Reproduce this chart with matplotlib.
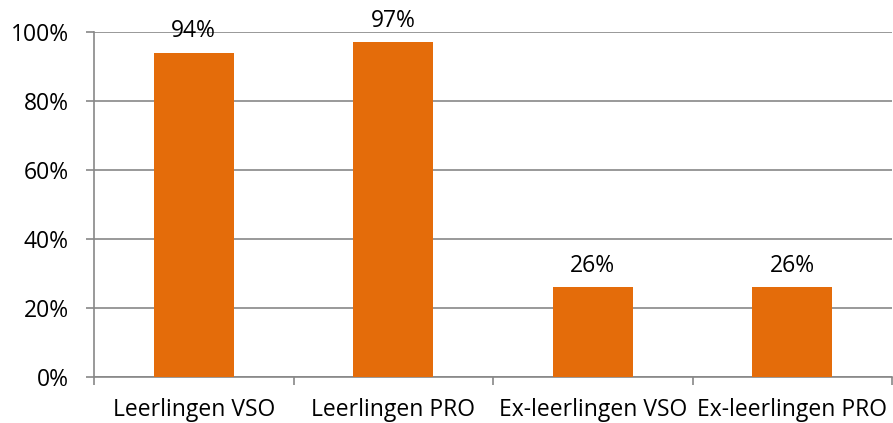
import numpy as np
import matplotlib.pyplot as plt

# data
categories = ['Leerlingen VSO', 'Leerlingen PRO', 'Ex-leerlingen VSO', 'Ex-leerlingen PRO']
values = [94, 97, 26, 26]
yticks = [0, 20, 40, 60, 80, 100]

plt.rcParams['font.family'] = ['Open Sans', 'DejaVu Sans']

bar_color = '#E46C0A'
grid_color = '#878787'

fig = plt.figure(figsize=(8.93, 4.23), dpi=100)
ax = fig.add_axes([94/893, 1 - 377/423, 798/893, 345/423])

x = np.arange(len(categories))
bars = ax.bar(x, values, width=0.4, color=bar_color, zorder=3)

for xi, v in zip(x, values):
    ax.annotate(f'{v}%', (xi, v), xytext=(0, 7), textcoords='offset points',
                ha='center', va='bottom', fontsize=16.5, zorder=4)

ax.set_xlim(-0.5, len(categories) - 0.5)
ax.set_ylim(0, 100)
ax.set_yticks(yticks)
ax.set_yticklabels([f'{t}%' for t in yticks], fontsize=16.5)
ax.yaxis.grid(True, color=grid_color, linewidth=1.2, zorder=0)

ax.set_xticks(x)
ax.set_xticklabels(categories, fontsize=16.5)
ax.set_xticks(np.arange(-0.5, len(categories)), minor=True)
ax.tick_params(axis='x', which='major', length=0, pad=15)
ax.tick_params(axis='x', which='minor', length=6, width=1.2, color=grid_color)
ax.tick_params(axis='y', length=6, width=1.2, color=grid_color, pad=12)

for side in ['top', 'right']:
    ax.spines[side].set_visible(False)
for side in ['left', 'bottom']:
    ax.spines[side].set_color(grid_color)
    ax.spines[side].set_linewidth(1.2)

fig.savefig('out.png', dpi=100)
